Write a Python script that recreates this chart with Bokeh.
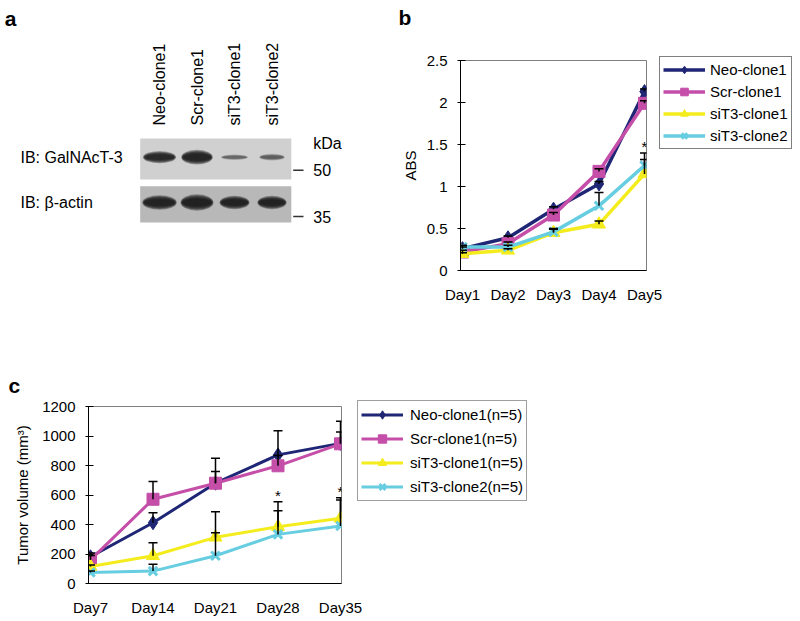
import math
from bokeh.plotting import figure
from bokeh.models import (Range1d, FixedTicker, Legend, LegendItem,
                          NumeralTickFormatter)
from bokeh.layouts import row, column
from bokeh.embed import file_html
from bokeh.resources import INLINE
from bokeh.core.properties import value

FONT = "Liberation Sans"

# ---------------- data ----------------
# panel a (western blot)
lanes = ["Neo-clone1", "Scr-clone1", "siT3-clone1", "siT3-clone2"]
blot_rows = ["IB: GalNAcT-3", "IB: \u03b2-actin"]
galnact3_intensity = [0.85, 0.95, 0.35, 0.40]
galnact3_band_w = [0.88, 0.84, 0.72, 0.68]
galnact3_band_h = [0.20, 0.24, 0.09, 0.11]
actin_intensity = [0.95, 0.97, 0.92, 0.92]
actin_band_w = [0.92, 0.88, 0.80, 0.78]
actin_band_h = [0.24, 0.27, 0.22, 0.22]
mw_labels = ["50", "35"]
mw_pos = [0.29, 1.31]

# panel b (ABS)
days_b = [1, 2, 3, 4, 5]
day_labels_b = ["Day1", "Day2", "Day3", "Day4", "Day5"]
abs_neo = [0.26, 0.39, 0.73, 1.03, 2.13]
abs_scr = [0.22, 0.32, 0.66, 1.18, 1.99]
abs_si1 = [0.20, 0.24, 0.45, 0.55, 1.15]
abs_si2 = [0.28, 0.28, 0.46, 0.77, 1.25]
err_b_neo = [0.02, 0.02, 0.03, 0.03, 0.03]
err_b_scr = [0.02, 0.02, 0.03, 0.03, 0.03]
err_b_si1 = [0.01, 0.02, 0.05, 0.04, 0.17]
err_b_si2 = [0.02, 0.02, 0.03, 0.16, 0.15]
sig_b_day = [5]
sig_b_y = [1.52]
names_b = ["Neo-clone1", "Scr-clone1", "siT3-clone1", "siT3-clone2"]

# panel c (tumor volume)
days_c = [7, 14, 21, 28, 35]
day_labels_c = ["Day7", "Day14", "Day21", "Day28", "Day35"]
vol_neo = [181, 412, 680, 872, 950]
vol_scr = [160, 571, 680, 798, 947]
vol_si1 = [115, 188, 313, 385, 442]
vol_si2 = [75, 84, 188, 333, 390]
err_c_neo = [25, 68, 80, 163, 150]
err_c_scr = [30, 120, 170, 70, 80]
err_c_si1 = [10, 88, 174, 170, 124]
err_c_si2 = [10, 47, 156, 161, 192]
sig_c_day = [28, 35]
sig_c_y = [627, 653]
names_c = ["Neo-clone1(n=5)", "Scr-clone1(n=5)", "siT3-clone1(n=5)", "siT3-clone2(n=5)"]

colors = ["#1f2675", "#c44ea8", "#f4ec1c", "#67cde0"]
markers = ["diamond", "square", "triangle", "x"]
msizes = [14, 12, 13, 12]

# ---------------- panel a ----------------
pa = figure(width=390, height=362, x_range=Range1d(-4.24, 6.16),
            y_range=Range1d(4.532, -3.459), output_backend="svg",
            toolbar_location=None, x_axis_location=None, y_axis_location=None,
            min_border=0, outline_line_color=None)
pa.xgrid.visible = False
pa.ygrid.visible = False

lane_x = list(range(len(lanes)))
row_y = list(range(len(blot_rows)))
mem_cx = (lane_x[0] + lane_x[-1]) / 2.0
mem_w = len(lanes) + 0.03
pa.rect(x=[mem_cx], y=[row_y[0] + 0.04], width=mem_w, height=0.9,
        fill_color="#d0d0d0", line_color=None)
pa.rect(x=[mem_cx], y=[row_y[1] + 0.04], width=mem_w, height=0.8,
        fill_color="#b8b8b8", line_color=None)

n_layers = 6
for ry, inten, bw, bh in [(row_y[0], galnact3_intensity, galnact3_band_w, galnact3_band_h),
                          (row_y[1], actin_intensity, actin_band_w, actin_band_h)]:
    for k in range(n_layers):
        f = k / (n_layers - 1)
        sw = 1.0 - 0.12 * f
        sh = 1.35 - 0.75 * f
        pa.ellipse(x=lane_x, y=[ry] * len(lanes),
                   width=[w * sw for w in bw], height=[h * sh for h in bh],
                   fill_color="#141414", fill_alpha=[i * 0.35 for i in inten],
                   line_color=None)

pa.text(x=lane_x, y=[row_y[0] - 0.70] * len(lanes), text=lanes, angle=math.pi / 2,
        text_align="left", text_baseline="middle", text_font=value(FONT),
        text_font_size="16px", text_color="black")
pa.text(x=[-3.707] * len(blot_rows), y=row_y, text=blot_rows, text_align="left",
        text_baseline="middle", text_font=value(FONT), text_font_size="16px",
        text_color="black")
pa.text(x=[4.10], y=[-0.31], text=["kDa"], text_align="left", text_baseline="middle",
        text_font=value(FONT), text_font_size="16px", text_color="black")
pa.segment(x0=[3.565] * len(mw_pos), x1=[3.84] * len(mw_pos), y0=mw_pos, y1=mw_pos,
           line_color="#333333", line_width=1.5)
pa.text(x=[4.10] * len(mw_pos), y=mw_pos, text=mw_labels, text_align="left",
        text_baseline="middle", text_font=value(FONT), text_font_size="16px",
        text_color="black")
pa.text(x=[-4.13], y=[-3.06], text=["a"], text_align="left", text_baseline="alphabetic",
        text_font=value(FONT), text_font_style="bold", text_font_size="21px",
        text_color="black")


# ---------------- helpers ----------------
def add_series(p, x, y, color, marker, size, lw):
    l = p.line(x, y, line_color=color, line_width=lw)
    if marker == "x":
        s = p.scatter(x, y, marker="x", size=size, line_color=color, line_width=3)
    else:
        s = p.scatter(x, y, marker=marker, size=size, fill_color=color, line_color=color)
    return [l, s]


def add_err(p, x, y, e):
    top = [a + b for a, b in zip(y, e)]
    p.segment(x0=x, y0=y, x1=x, y1=top, line_color="black", line_width=1.5)
    p.scatter(x, top, marker="dash", size=9, line_color="black", line_width=1.5)


def style(p, ylabel, label_standoff, ystandoff, xstandoff):
    p.xgrid.visible = False
    p.ygrid.visible = False
    p.outline_line_color = "#7f7f7f"
    p.outline_line_width = 1
    for ax in [p.xaxis[0], p.yaxis[0]]:
        ax.axis_line_color = "black"
        ax.axis_line_width = 1
        ax.major_label_text_font = FONT
        ax.major_label_text_font_size = "15px"
        ax.major_label_text_color = "black"
        ax.minor_tick_line_color = None
        ax.major_tick_line_color = "black"
    p.xaxis[0].major_tick_in = 0
    p.xaxis[0].major_tick_out = 0
    p.xaxis[0].major_label_standoff = xstandoff
    p.yaxis[0].major_tick_in = 5
    p.yaxis[0].major_tick_out = 3
    p.yaxis[0].major_label_standoff = ystandoff
    p.yaxis[0].axis_label = ylabel
    p.yaxis[0].axis_label_text_font = FONT
    p.yaxis[0].axis_label_text_font_size = "15px"
    p.yaxis[0].axis_label_text_font_style = "normal"
    p.yaxis[0].axis_label_text_color = "black"
    p.yaxis[0].axis_label_standoff = label_standoff


def panel_title(p, letter, offset, standoff, line_height):
    p.title.text = letter
    p.title.align = "left"
    p.title.offset = offset
    p.title.standoff = standoff
    p.title.text_font = FONT
    p.title.text_font_style = "bold"
    p.title.text_font_size = "21px"
    p.title.text_line_height = line_height
    p.title.text_color = "black"


# ---------------- panel b ----------------
pb = figure(frame_width=186, frame_height=210,
            x_range=Range1d(0.956, 5.044), y_range=Range1d(0, 2.5),
            output_backend="svg", toolbar_location=None,
            min_border_left=70, min_border_right=14, min_border_top=60, min_border_bottom=92)
style(pb, "ABS", 5, 10, 15)
pb.xaxis[0].ticker = FixedTicker(ticks=days_b)
pb.xaxis[0].major_label_overrides = dict(zip(days_b, day_labels_b))
pb.yaxis[0].ticker = FixedTicker(ticks=[0, 0.5, 1, 1.5, 2, 2.5])
pb.yaxis[0].formatter = NumeralTickFormatter(format="0.[0]")
panel_title(pb, "b\n ", -62, 0, 1.36)

items_b = []
for name, ys, c, m, s in zip(names_b, [abs_neo, abs_scr, abs_si1, abs_si2], colors, markers, msizes):
    items_b.append(LegendItem(label=name, renderers=add_series(pb, days_b, ys, c, m, s, 3.5)))
for ys, es in zip([abs_neo, abs_scr, abs_si1, abs_si2], [err_b_neo, err_b_scr, err_b_si1, err_b_si2]):
    add_err(pb, days_b, ys, es)
pb.text(x=sig_b_day, y=sig_b_y, text=["*"] * len(sig_b_day), text_align="center",
        text_baseline="middle", y_offset=4, text_font=value(FONT), text_font_size="15px",
        text_color="black")

leg_b = Legend(items=items_b, location=(13, 121), padding=3, spacing=3, margin=0,
               label_height=19, glyph_height=19, glyph_width=42, label_standoff=5,
               border_line_color="black", border_line_width=1,
               label_text_font=FONT, label_text_font_size="15px", label_text_color="black",
               background_fill_color="white", background_fill_alpha=1)
pb.add_layout(leg_b, "right")

# ---------------- panel c ----------------
pc = figure(frame_width=253, frame_height=177,
            x_range=Range1d(6.776, 35.112), y_range=Range1d(0, 1200),
            output_backend="svg", toolbar_location=None,
            min_border_left=88, min_border_right=17, min_border_top=44, min_border_bottom=37)
style(pc, "Tumor volume (mm\u00b3)", 8, 10, 15)
pc.xaxis[0].ticker = FixedTicker(ticks=days_c)
pc.xaxis[0].major_label_overrides = dict(zip(days_c, day_labels_c))
pc.yaxis[0].ticker = FixedTicker(ticks=[0, 200, 400, 600, 800, 1000, 1200])
panel_title(pc, "c", -80, 19, 1.2)

items_c = []
for name, ys, c, m, s in zip(names_c, [vol_neo, vol_scr, vol_si1, vol_si2], colors, markers, msizes):
    items_c.append(LegendItem(label=name, renderers=add_series(pc, days_c, ys, c, m, s, 3)))
for ys, es in zip([vol_neo, vol_scr, vol_si1, vol_si2], [err_c_neo, err_c_scr, err_c_si1, err_c_si2]):
    add_err(pc, days_c, ys, es)
pc.text(x=sig_c_day, y=sig_c_y, text=["*"] * len(sig_c_day), text_align="center",
        text_baseline="middle", y_offset=4, text_font=value(FONT), text_font_size="15px",
        text_color="black")

leg_c = Legend(items=items_c, location=(16, 82), padding=3, spacing=3, margin=0,
               label_height=21, glyph_height=21, glyph_width=42, label_standoff=7,
               border_line_color="#404040", border_line_width=1,
               label_text_font=FONT, label_text_font_size="15px", label_text_color="black",
               background_fill_color="white", background_fill_alpha=1)
pc.add_layout(leg_c, "right")

layout = column(row(column(pa), column(pb)), pc)
open("out.html", "w").write(file_html(layout, INLINE))
